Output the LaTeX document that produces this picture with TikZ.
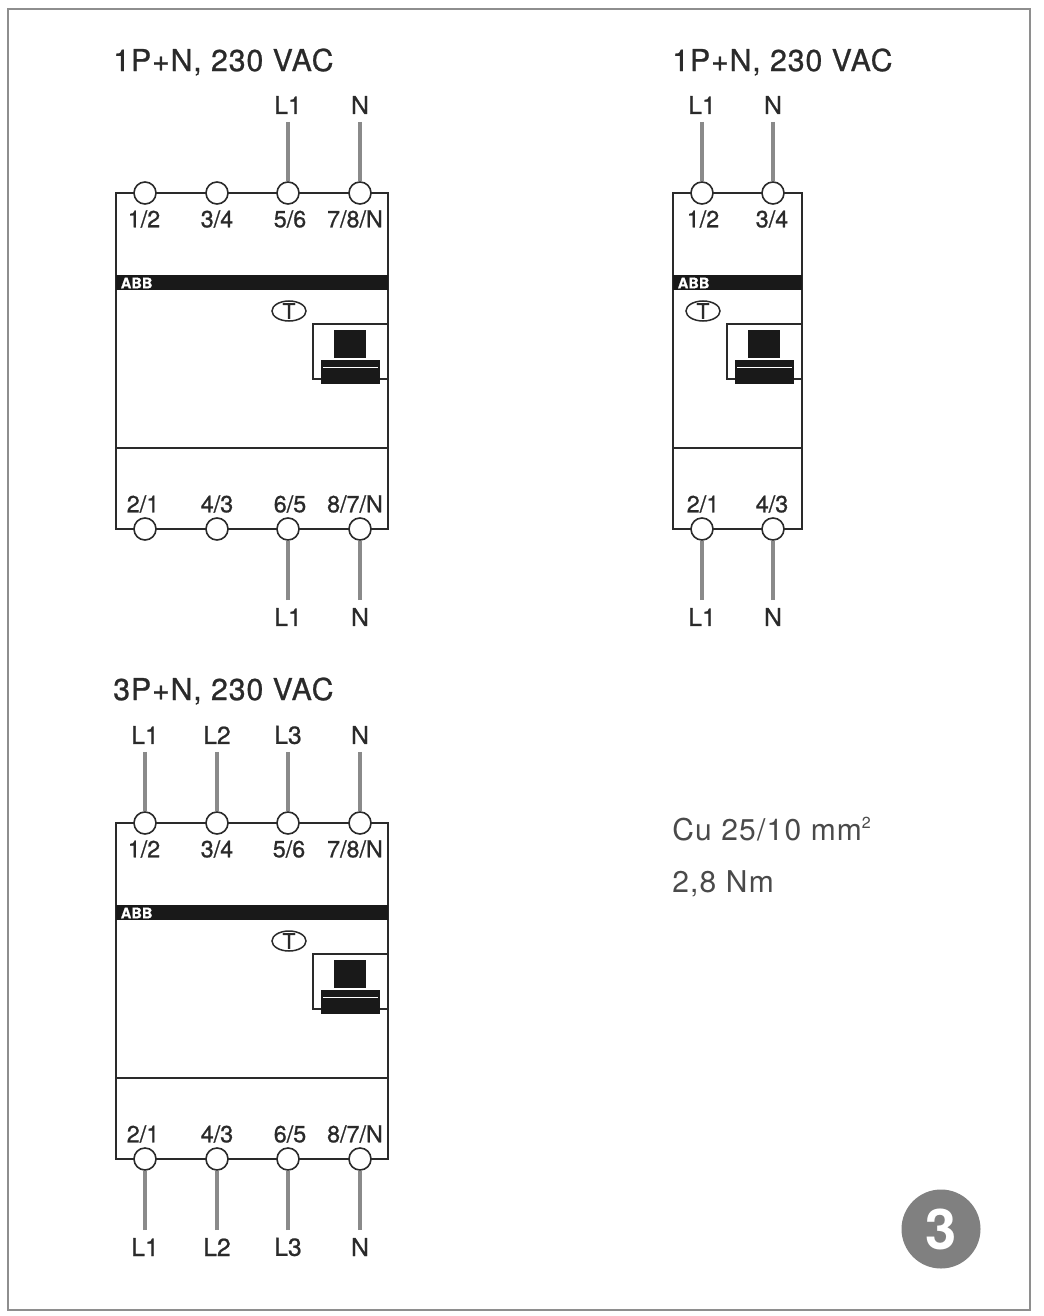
\documentclass[tikz,border=0pt]{standalone}
\usepackage{fontspec}
\setmainfont{TeX Gyre Heros}
\newfontfamily\titlefont[LetterSpace=3,FakeBold=0.8]{TeX Gyre Heros}
\newfontfamily\labelfont[FakeBold=0.8]{TeX Gyre Heros}
\newfontfamily\notefont[LetterSpace=4]{TeX Gyre Heros}
\definecolor{inkline}{HTML}{2A2A2A}
\definecolor{wiregray}{HTML}{8A8A8A}
\definecolor{framegray}{HTML}{8E8E8E}
\definecolor{notegray}{HTML}{4A4A4A}
\definecolor{badgegray}{HTML}{808080}
\tikzset{
	housing/.style={draw=inkline, line width=1.8*.75pt},
	terminal/.style={circle, draw=inkline, line width=1.6*.75pt, fill=white, inner sep=0pt, minimum size=22*.75pt},
	wire/.style={draw=wiregray, line width=3.3*.75pt},
	linelabel/.style={font=\labelfont\fontsize{18.5}{20}\selectfont, text=inkline, inner sep=0pt, minimum height=33*.75pt},
	portlabel/.style={font=\labelfont\fontsize{17.5}{20}\selectfont, text=inkline, inner sep=0pt},
	titlelabel/.style={font=\titlefont\fontsize{22.7}{25}\selectfont, text=inkline, anchor=west, inner sep=0pt},
	notelabel/.style={font=\notefont\fontsize{22.5}{25}\selectfont, text=notegray, anchor=west, inner sep=0pt},
}
% Device body, local origin at the top right corner, #1 = left edge
\newcommand{\housingbody}[1]{
	\draw[housing] (#1,0) rectangle (0,336);
	\draw[housing] (#1,255) -- (0,255);
	\fill[black!90] (#1,82) rectangle (0,97);
	\node[anchor=west, inner sep=0pt, text=white, font=\labelfont\bfseries\fontsize{11}{12}\selectfont] at (#1+4.5,90) {ABB};
	% Test button
	\draw[housing, line width=1.5*.75pt] (-99,118) ellipse (17 and 10);
	\node[inner sep=0pt, text=inkline, font=\labelfont\fontsize{16}{16}\selectfont] at (-99,118) {T};
	% Switch
	\draw[housing, line width=1.4*.75pt] (0,131) -- (-75,131) -- (-75,186) -- (0,186);
	\fill[black!90] (-54,137) rectangle (-22,165);
	\fill[black!90] (-67,167) rectangle (-8,191);
	\draw[white, line width=1.2*.75pt] (-65,174.5) -- (-10,174.5);
}
% Row of terminals with their texts: prefix, y, text y, list
\newcommand{\portrow}[4]{
	\foreach \n/\x/\lx/\t in {#4} {
		\node[terminal] (#1\n) at (\x,#2) {};
		\node[portlabel] (#1\n t) at (\lx,#3) {\t};
	}
}
% Supply lines: prefix, text y, list
\newcommand{\feedrow}[3]{
	\foreach \n/\x/\t in {#3} {
		\node[linelabel] (#1\n l) at (\x,#2) {\t};
		\draw[wire] (#1\n l) -- (#1\n);
	}
}

\begin{document}
\begin{tikzpicture}[x=.75pt, y=-.75pt]
	\useasboundingbox (0,0) rectangle (1044,1316);
	% Frame
	\draw[framegray, line width=.9pt] (8,9) rectangle (1030,1310);
	% Titles
	\node[titlelabel] (titlea) at (113,62) {1P+N, 230 VAC};
	\node[titlelabel] (titleb) at (672,62) {1P+N, 230 VAC};
	\node[titlelabel] (titlec) at (113,691) {3P+N, 230 VAC};
	% Left device, single phase
	\begin{scope}[shift={(388,193)}]
		\housingbody{-272}
		\portrow{p}{0}{26}{a/-243/-244/{1/2},b/-171/-171/{3/4},c/-100/-98/{5/6},d/-28/-33/{7/8/N}}
		\portrow{q}{336}{311}{a/-243/-245/{2/1},b/-171/-171/{4/3},c/-100/-98/{6/5},d/-28/-33/{8/7/N}}
		\feedrow{p}{-88}{c/-100/L1,d/-28/N}
		\feedrow{q}{424}{c/-100/L1,d/-28/N}
	\end{scope}
	% Right device, two poles
	\begin{scope}[shift={(802,193)}]
		\housingbody{-129}
		\portrow{r}{0}{26}{a/-100/-99/{1/2},b/-29/-30/{3/4}}
		\portrow{s}{336}{311}{a/-100/-99/{2/1},b/-29/-30/{4/3}}
		\feedrow{r}{-88}{a/-100/L1,b/-29/N}
		\feedrow{s}{424}{a/-100/L1,b/-29/N}
	\end{scope}
	% Lower device, three phases
	\begin{scope}[shift={(388,823)}]
		\housingbody{-272}
		\portrow{u}{0}{26}{a/-243/-244/{1/2},b/-171/-171/{3/4},c/-100/-99/{5/6},d/-28/-33/{7/8/N}}
		\portrow{v}{336}{311}{a/-243/-245/{2/1},b/-171/-171/{4/3},c/-100/-98/{6/5},d/-28/-33/{8/7/N}}
		\feedrow{u}{-88}{a/-243/L1,b/-171/L2,c/-100/L3,d/-28/N}
		\feedrow{v}{424}{a/-243/L1,b/-171/L2,c/-100/L3,d/-28/N}
	\end{scope}
	% Cable data
	\node[notelabel] (section) at (672,829) {Cu 25/10 mm\raisebox{.42em}{\fontsize{12}{12}\selectfont 2}};
	\node[notelabel] (torque) at (672,884) {2,8 Nm};
	% Badge
	\node[circle, fill=badgegray, minimum size=79*.75pt, inner sep=0pt, text=white, font=\bfseries\fontsize{42}{44}\selectfont] (badge) at (941,1229) {3};
\end{tikzpicture}
\end{document}
